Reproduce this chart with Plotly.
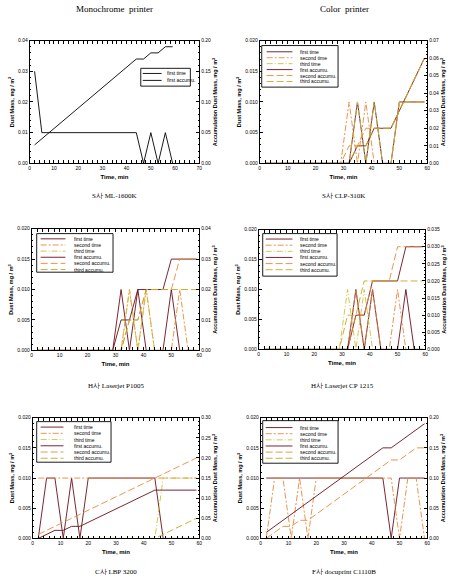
import plotly.graph_objects as go

W, H = 462, 582

# ---------------- data ----------------
X_TIME = [2, 5, 8, 11, 14, 17, 20, 23, 26, 29, 32, 35, 38, 41, 44, 47, 50, 53, 56, 59]
SERIES_NAMES = ["first time", "second time", "third time",
                "first accumu.", "second accumu.", "third accumu."]

# S사 ML-1600K (monochrome)
ML1600K_T1 = [0.03, 0.01, 0.01, 0.01, 0.01, 0.01, 0.01, 0.01, 0.01, 0.01,
              0.01, 0.01, 0.01, 0.01, 0.01, 0.0, 0.01, 0.0, 0.01, 0.0]
ML1600K_A1 = [0.03, 0.04, 0.05, 0.06, 0.07, 0.08, 0.09, 0.10, 0.11, 0.12,
              0.13, 0.14, 0.15, 0.16, 0.17, 0.17, 0.18, 0.18, 0.19, 0.19]

# S사 CLP-310K
CLP310K_T1 = [0, 0, 0, 0, 0, 0, 0, 0, 0, 0, 0, 0.01, 0, 0.01, 0, 0, 0.01, 0.01, 0.01, 0.01]
CLP310K_T2 = [0, 0, 0, 0, 0, 0, 0, 0, 0, 0, 0.01, 0, 0.01, 0, 0, 0, 0.01, 0.01, 0.01, 0.01]
CLP310K_T3 = [0, 0, 0, 0, 0, 0, 0, 0, 0, 0, 0, 0.01, 0, 0.01, 0, 0, 0.01, 0.01, 0.01, 0.01]
CLP310K_A1 = [0, 0, 0, 0, 0, 0, 0, 0, 0, 0, 0, 0.01, 0.01, 0.02, 0.02, 0.02, 0.03, 0.04, 0.05, 0.06]
CLP310K_A2 = [0, 0, 0, 0, 0, 0, 0, 0, 0, 0, 0.01, 0.01, 0.02, 0.02, 0.02, 0.02, 0.03, 0.04, 0.05, 0.06]
CLP310K_A3 = [0, 0, 0, 0, 0, 0, 0, 0, 0, 0, 0, 0.01, 0.01, 0.02, 0.02, 0.02, 0.03, 0.04, 0.05, 0.06]

# H사 Laserjet P1005
P1005_T1 = [0, 0, 0, 0, 0, 0, 0, 0, 0, 0, 0.01, 0, 0.01, 0, 0, 0, 0.01, 0, 0, 0]
P1005_T2 = [0, 0, 0, 0, 0, 0, 0, 0, 0, 0, 0, 0.01, 0, 0.01, 0, 0, 0, 0.01, 0, 0]
P1005_T3 = [0, 0, 0, 0, 0, 0, 0, 0, 0, 0, 0, 0.01, 0, 0.01, 0, 0, 0, 0, 0, 0]
P1005_A1 = [0, 0, 0, 0, 0, 0, 0, 0, 0, 0, 0.01, 0.01, 0.02, 0.02, 0.02, 0.02, 0.03, 0.03, 0.03, 0.03]
P1005_A2 = [0, 0, 0, 0, 0, 0, 0, 0, 0, 0, 0, 0.01, 0.01, 0.02, 0.02, 0.02, 0.02, 0.03, 0.03, 0.03]
P1005_A3 = [0, 0, 0, 0, 0, 0, 0, 0, 0, 0, 0, 0.01, 0.01, 0.02, 0.02, 0.02, 0.02, 0.02, 0.02, 0.02]

# H사 Laserjet CP 1215
CP1215_T1 = [0, 0, 0, 0, 0, 0, 0, 0, 0, 0, 0, 0.01, 0, 0.01, 0, 0, 0, 0.01, 0, 0]
CP1215_T2 = [0, 0, 0, 0, 0, 0, 0, 0, 0, 0, 0, 0.01, 0, 0.01, 0, 0, 0.01, 0, 0, 0]
CP1215_T3 = [0, 0, 0, 0, 0, 0, 0, 0, 0, 0, 0.01, 0, 0.01, 0, 0, 0, 0, 0, 0, 0]
CP1215_A1 = [0, 0, 0, 0, 0, 0, 0, 0, 0, 0, 0, 0.01, 0.01, 0.02, 0.02, 0.02, 0.02, 0.03, 0.03, 0.03]
CP1215_A2 = [0, 0, 0, 0, 0, 0, 0, 0, 0, 0, 0, 0.01, 0.01, 0.02, 0.02, 0.02, 0.03, 0.03, 0.03, 0.03]
CP1215_A3 = [0, 0, 0, 0, 0, 0, 0, 0, 0, 0, 0.01, 0.01, 0.02, 0.02, 0.02, 0.02, 0.02, 0.02, 0.02, 0.02]

# C사 LBP 3200
LBP3200_T1 = [0, 0.01, 0.01, 0, 0.01, 0, 0.01, 0.01, 0.01, 0.01,
              0.01, 0.01, 0.01, 0.01, 0.01, 0, 0, 0, 0, 0]
LBP3200_T2 = [0.01, 0.01, 0.01, 0.01, 0.01, 0.01, 0.01, 0.01, 0.01, 0.01,
              0.01, 0.01, 0.01, 0.01, 0.01, 0.01, 0.01, 0.01, 0.01, 0.01]
LBP3200_T3 = [0, 0, 0, 0, 0, 0, 0, 0, 0, 0, 0, 0, 0, 0, 0, 0.01, 0.01, 0.01, 0.01, 0.01]
LBP3200_A1 = [0, 0.01, 0.02, 0.02, 0.03, 0.03, 0.04, 0.05, 0.06, 0.07,
              0.08, 0.09, 0.10, 0.11, 0.12, 0.12, 0.12, 0.12, 0.12, 0.12]
LBP3200_A2 = [0.01, 0.02, 0.03, 0.04, 0.05, 0.06, 0.07, 0.08, 0.09, 0.10,
              0.11, 0.12, 0.13, 0.14, 0.15, 0.16, 0.17, 0.18, 0.19, 0.20]
LBP3200_A3 = [0, 0, 0, 0, 0, 0, 0, 0, 0, 0, 0, 0, 0, 0, 0, 0.01, 0.02, 0.03, 0.04, 0.05]

# F사 docuprint C1110B
C1110B_T1 = [0.01, 0.01, 0.01, 0.01, 0.01, 0.01, 0.01, 0.01, 0.01, 0.01,
             0.01, 0.01, 0.01, 0.01, 0.01, 0, 0.01, 0.01, 0.01, 0.01]
C1110B_T2 = [0, 0.01, 0.01, 0, 0.01, 0, 0.01, 0.01, 0.01, 0.01,
             0.01, 0.01, 0.01, 0.01, 0.01, 0.01, 0, 0.01, 0.01, 0]
C1110B_T3 = [0, 0, 0, 0, 0, 0, 0, 0, 0, 0, 0, 0, 0, 0, 0, 0, 0, 0, 0, 0]
C1110B_A1 = [0.01, 0.02, 0.03, 0.04, 0.05, 0.06, 0.07, 0.08, 0.09, 0.10,
             0.11, 0.12, 0.13, 0.14, 0.15, 0.15, 0.16, 0.17, 0.18, 0.19]
C1110B_A2 = [0, 0.01, 0.02, 0.02, 0.03, 0.03, 0.04, 0.05, 0.06, 0.07,
             0.08, 0.09, 0.10, 0.11, 0.12, 0.13, 0.13, 0.14, 0.15, 0.15]
C1110B_A3 = [0, 0, 0, 0, 0, 0, 0, 0, 0, 0, 0, 0, 0, 0, 0, 0, 0, 0, 0, 0]

CAPTIONS = ["S사 ML-1600K", "S사 CLP-310K", "H사 Laserjet P1005",
            "H사 Laserjet CP 1215", "C사 LBP 3200", "F사 docuprint C1110B"]
COLUMN_TITLES = ["Monochrome  printer", "Color  printer"]

# ---------------- styles ----------------
MAROON = "#6a0f1c"
ORANGE = "#e8893c"
OLIVE = "#c9c43c"
GOLD = "#c8a824"
STYLES = [
    dict(color=MAROON, dash="solid"),
    dict(color=ORANGE, dash="6px,2px,2px,2px"),
    dict(color=OLIVE, dash="6px,2px,1px,2px"),
    dict(color=MAROON, dash="solid"),
    dict(color=ORANGE, dash="7px,3px"),
    dict(color=GOLD, dash="7px,3px"),
]
BLACK_STYLES = [dict(color="black", dash="solid"), dict(color="black", dash="solid")]

SANS = "Liberation Sans, Arial, sans-serif"
SERIF = "Liberation Serif, Times New Roman, serif"

panels = [
    dict(dom=(29, 200, 38, 162), xr=70, y1=(0.04, 0.01, 0.002, ".2f"), y2=(0.20, 0.05, 0.01, ".2f"),
         times=[ML1600K_T1], accs=[ML1600K_A1], names=["first time", "first accumu."],
         styles=BLACK_STYLES,
         leg=dict(box=(141, 66, 191, 84), y0=71.2, dy=7.0, sx=(143, 162), tx=165),
         cap_y=195),
    dict(dom=(261, 430, 38, 162), xr=60, y1=(0.020, 0.005, 0.001, ".3f"), y2=(0.07, 0.01, 0.002, ".2f"),
         times=[CLP310K_T1, CLP310K_T2, CLP310K_T3], accs=[CLP310K_A1, CLP310K_A2, CLP310K_A3],
         names=SERIES_NAMES, styles=STYLES,
         leg=dict(box=(263, 43, 340, 85), y0=49.3, dy=6.0, sx=(268, 294), tx=300),
         cap_y=195),
    dict(dom=(31, 200, 228, 351), xr=60, y1=(0.020, 0.005, 0.001, ".3f"), y2=(0.04, 0.01, 0.002, ".2f"),
         times=[P1005_T1, P1005_T2, P1005_T3], accs=[P1005_A1, P1005_A2, P1005_A3],
         names=SERIES_NAMES, styles=STYLES,
         leg=dict(box=(36, 233, 113, 272), y0=238.3, dy=6.2, sx=(40, 65), tx=72),
         cap_y=387),
    dict(dom=(260, 428, 229, 350), xr=60, y1=(0.020, 0.005, 0.001, ".3f"), y2=(0.035, 0.005, 0.001, ".3f"),
         times=[CP1215_T1, CP1215_T2, CP1215_T3], accs=[CP1215_A1, CP1215_A2, CP1215_A3],
         names=SERIES_NAMES, styles=STYLES,
         leg=dict(box=(264, 233, 339, 276), y0=238.5, dy=6.2, sx=(267, 294), tx=300),
         cap_y=387),
    dict(dom=(32, 200, 419, 541), xr=60, y1=(0.020, 0.005, 0.001, ".3f"), y2=(0.30, 0.05, 0.01, ".2f"),
         times=[LBP3200_T1, LBP3200_T2, LBP3200_T3], accs=[LBP3200_A1, LBP3200_A2, LBP3200_A3],
         names=SERIES_NAMES, styles=STYLES,
         leg=dict(box=(36, 423, 111, 464), y0=428.5, dy=6.3, sx=(40, 63), tx=72),
         cap_y=575),
    dict(dom=(262, 430, 419, 541), xr=60, y1=(0.020, 0.005, 0.001, ".3f"), y2=(0.20, 0.05, 0.01, ".2f"),
         times=[C1110B_T1, C1110B_T2, C1110B_T3], accs=[C1110B_A1, C1110B_A2, C1110B_A3],
         names=SERIES_NAMES, styles=STYLES,
         leg=dict(box=(264, 422, 340, 465), y0=429, dy=6.2, sx=(267, 294), tx=300),
         cap_y=575),
]


def px(x):
    return x / W


def py(y):
    return 1 - y / H


fig = go.Figure()
layout = dict(width=W, height=H, margin=dict(l=0, r=0, t=0, b=0),
              paper_bgcolor="white", plot_bgcolor="white", showlegend=False,
              font=dict(family=SANS, size=5, color="black"))
shapes = []
annotations = []

for i, p in enumerate(panels):
    xn = i + 1
    yl = 2 * i + 1
    yr = 2 * i + 2
    xs = "" if xn == 1 else str(xn)
    yls = "" if yl == 1 else str(yl)
    yrs = str(yr)
    x0, x1, ytop, ybot = p["dom"]

    common = dict(showgrid=False, zeroline=False, showline=True, linecolor="black", linewidth=0.8,
                  ticks="inside", ticklen=3, tickwidth=0.7, tickcolor="black",
                  tickfont=dict(family=SANS, size=5, color="black"))
    layout["xaxis" + xs] = dict(
        domain=[px(x0), px(x1)], anchor="y" + yls, range=[0, p["xr"]], dtick=10, tick0=0,
        mirror="allticks",
        minor=dict(dtick=2, ticks="inside", ticklen=1.5, tickcolor="black", tickwidth=0.5),
        title=dict(text="<b>Time, min</b>", font=dict(family=SANS, size=6), standoff=4),
        **common)
    ymax, ydt, ymin_dt, yfmt = p["y1"]
    layout["yaxis" + yls] = dict(
        domain=[py(ybot), py(ytop)], anchor="x" + xs, range=[0, ymax], dtick=ydt, tick0=0,
        tickformat=yfmt,
        minor=dict(dtick=ymin_dt, ticks="inside", ticklen=1.5, tickcolor="black", tickwidth=0.5),
        title=dict(text="<b>Dust Mass, mg / m<sup>3</sup></b>", font=dict(family=SANS, size=5.5), standoff=3),
        **common)
    rmax, rdt, rmin_dt, rfmt = p["y2"]
    layout["yaxis" + yrs] = dict(
        overlaying="y" + yls, side="right", anchor="x" + xs, range=[0, rmax], dtick=rdt, tick0=0,
        tickformat=rfmt,
        minor=dict(dtick=rmin_dt, ticks="inside", ticklen=1.5, tickcolor="black", tickwidth=0.5),
        title=dict(text="<b>Accumulation Dust Mass, mg / m<sup>3</sup></b>",
                   font=dict(family=SANS, size=5.5), standoff=3),
        **common)

    n_t = len(p["times"])
    for k, ys in enumerate(p["times"]):
        st = p["styles"][k]
        fig.add_trace(go.Scatter(x=X_TIME, y=ys, mode="lines", name=p["names"][k],
                                 line=dict(color=st["color"], dash=st["dash"], width=0.9),
                                 xaxis="x" + xs, yaxis="y" + yls))
    for k, ys in enumerate(p["accs"]):
        st = p["styles"][n_t + k]
        fig.add_trace(go.Scatter(x=X_TIME, y=ys, mode="lines", name=p["names"][n_t + k],
                                 line=dict(color=st["color"], dash=st["dash"], width=0.9),
                                 xaxis="x" + xs, yaxis="y" + yrs))

    # legend box (drawn manually to match compact original)
    lg = p["leg"]
    bx0, by0, bx1, by1 = lg["box"]
    shapes.append(dict(type="rect", xref="paper", yref="paper",
                       x0=px(bx0), x1=px(bx1), y0=py(by1), y1=py(by0),
                       line=dict(color="black", width=0.9), fillcolor="white", layer="above"))
    for k, nm in enumerate(p["names"]):
        yy = lg["y0"] + k * lg["dy"]
        st = p["styles"][k]
        shapes.append(dict(type="line", xref="paper", yref="paper",
                           x0=px(lg["sx"][0]), x1=px(lg["sx"][1]), y0=py(yy), y1=py(yy),
                           line=dict(color=st["color"], dash=st["dash"], width=0.9), layer="above"))
        annotations.append(dict(text=nm, xref="paper", yref="paper", x=px(lg["tx"]), y=py(yy),
                                xanchor="left", yanchor="middle", showarrow=False,
                                font=dict(family=SANS, size=5, color="black")))

    annotations.append(dict(text=CAPTIONS[i], xref="paper", yref="paper",
                            x=px((x0 + x1) / 2), y=py(p["cap_y"]), xanchor="center", yanchor="middle",
                            showarrow=False, font=dict(family=SERIF, size=7, color="black")))

annotations.append(dict(text=COLUMN_TITLES[0], xref="paper", yref="paper", x=px(114), y=py(6),
                        xanchor="center", yanchor="middle", showarrow=False,
                        font=dict(family=SERIF, size=9, color="black")))
annotations.append(dict(text=COLUMN_TITLES[1], xref="paper", yref="paper", x=px(346), y=py(6),
                        xanchor="center", yanchor="middle", showarrow=False,
                        font=dict(family=SERIF, size=9, color="black")))

layout["shapes"] = shapes
layout["annotations"] = annotations
fig.update_layout(**layout)
fig.write_html("out.html", config={"displayModeBar": False},
               post_script="document.body.style.margin='0';document.body.style.overflow='hidden';")
